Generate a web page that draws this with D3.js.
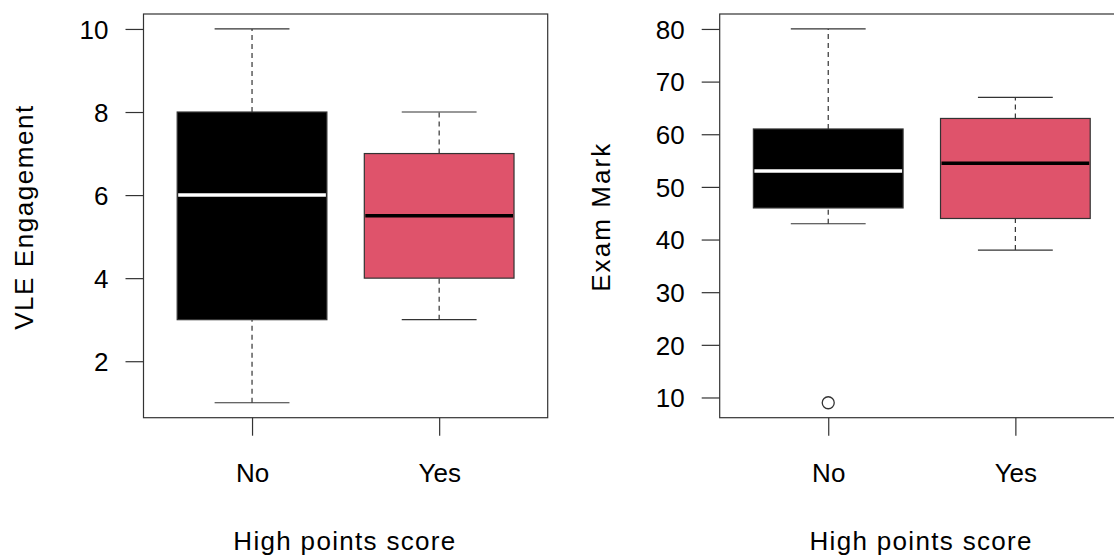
<!DOCTYPE html>
<html>
<head>
<meta charset="utf-8">
<script src="https://cdn.jsdelivr.net/npm/d3@7"></script>
<style>
  body { margin: 0; background: #fff; }
  svg { display: block; font-family: "Liberation Sans", Arial, sans-serif; }
</style>
</head>
<body>
<svg id="chart" width="1114" height="556"></svg>
<script>
// groups on the x axis
var groups = ["No", "Yes"];

// five number summaries: [min, q1, median, q3, max]
var vleStats  = [[1, 3, 6, 8, 10], [3, 4, 5.5, 7, 8]];
var examStats = [[43, 46, 53, 61, 80], [38, 44, 54.5, 63, 67]];
var examOutliers = [[9], []];

var vleTicks  = [2, 4, 6, 8, 10];
var examTicks = [10, 20, 30, 40, 50, 60, 70, 80];

var boxFill = ["#000000", "#DF536B"];
var medCol  = ["#ffffff", "#000000"];

var svg = d3.select("#chart");
var plotW = 404.2, plotTop = 14, plotBottom = 417.7;

function panel(left, stats, outliers, ticks, yDomain, yLabel, yLabelLen) {
  var g = svg.append("g").attr("transform", "translate(" + left + ",0)");

  var x = d3.scaleLinear().domain([0.42, 2.58]).range([0, plotW]);
  var y = d3.scaleLinear().domain(yDomain).range([plotBottom, plotTop]);
  var bw = x(1.4) - x(1);   // half box width
  var cw = bw / 2;          // half staple width

  stats.forEach(function(s, i) {
    var cx = x(i + 1);
    // whiskers
    g.append("line").attr("x1", cx).attr("x2", cx).attr("y1", y(s[3])).attr("y2", y(s[4]))
      .attr("stroke", "#333").attr("stroke-width", 1.2).attr("stroke-dasharray", "5,4");
    g.append("line").attr("x1", cx).attr("x2", cx).attr("y1", y(s[0])).attr("y2", y(s[1]))
      .attr("stroke", "#333").attr("stroke-width", 1.2).attr("stroke-dasharray", "5,4");
    // staples
    [s[0], s[4]].forEach(function(v) {
      g.append("line").attr("x1", cx - cw).attr("x2", cx + cw).attr("y1", y(v)).attr("y2", y(v))
        .attr("stroke", "#333").attr("stroke-width", 1.2);
    });
    // box
    g.append("rect").attr("x", cx - bw).attr("width", 2 * bw)
      .attr("y", y(s[3])).attr("height", y(s[1]) - y(s[3]))
      .attr("fill", boxFill[i]).attr("stroke", "#333").attr("stroke-width", 1.2);
    // median
    g.append("line").attr("x1", cx - bw + 1).attr("x2", cx + bw - 1).attr("y1", y(s[2])).attr("y2", y(s[2]))
      .attr("stroke", medCol[i]).attr("stroke-width", 3.5);
    // outliers
    (outliers ? outliers[i] : []).forEach(function(v) {
      g.append("circle").attr("cx", cx).attr("cy", y(v)).attr("r", 6)
        .attr("fill", "none").attr("stroke", "#333").attr("stroke-width", 1.3);
    });
  });

  // frame
  g.append("rect").attr("x", 0).attr("y", plotTop).attr("width", plotW).attr("height", plotBottom - plotTop)
    .attr("fill", "none").attr("stroke", "#333").attr("stroke-width", 1.2);

  // y axis
  var ya = g.append("g").call(d3.axisLeft(y).tickValues(ticks).tickSize(18).tickPadding(17));
  ya.select(".domain").remove();
  ya.selectAll("line").attr("stroke", "#333").attr("stroke-width", 1.2);
  ya.selectAll("text").attr("font-size", 26).attr("font-family", "Liberation Sans, Arial, sans-serif")
    .attr("fill", "#000").attr("dy", "0.36em");

  // x axis
  var xa = g.append("g").attr("transform", "translate(0," + plotBottom + ")")
    .call(d3.axisBottom(x).tickValues([1, 2]).tickFormat(function(d) { return groups[d - 1]; }).tickSize(18));
  xa.select(".domain").remove();
  xa.selectAll("line").attr("stroke", "#333").attr("stroke-width", 1.2);
  xa.selectAll("text").attr("font-size", 26).attr("font-family", "Liberation Sans, Arial, sans-serif")
    .attr("fill", "#000").attr("y", 64).attr("dy", 0);

  // axis titles
  g.append("text").attr("x", 200.8).attr("y", 549.5).attr("text-anchor", "middle")
    .attr("font-size", 26).attr("fill", "#000")
    .attr("textLength", 222).attr("lengthAdjust", "spacing").text("High points score");
  g.append("text").attr("transform", "translate(-110.2,217.8) rotate(-90)")
    .attr("text-anchor", "middle").attr("font-size", 26).attr("fill", "#000")
    .attr("textLength", yLabelLen).attr("lengthAdjust", "spacing").text(yLabel);
}

panel(143.5, vleStats, null, vleTicks, [0.64, 10.36], "VLE Engagement", 224);
panel(719.7, examStats, examOutliers, examTicks, [6.16, 82.84], "Exam Mark", 148);
</script>
</body>
</html>
